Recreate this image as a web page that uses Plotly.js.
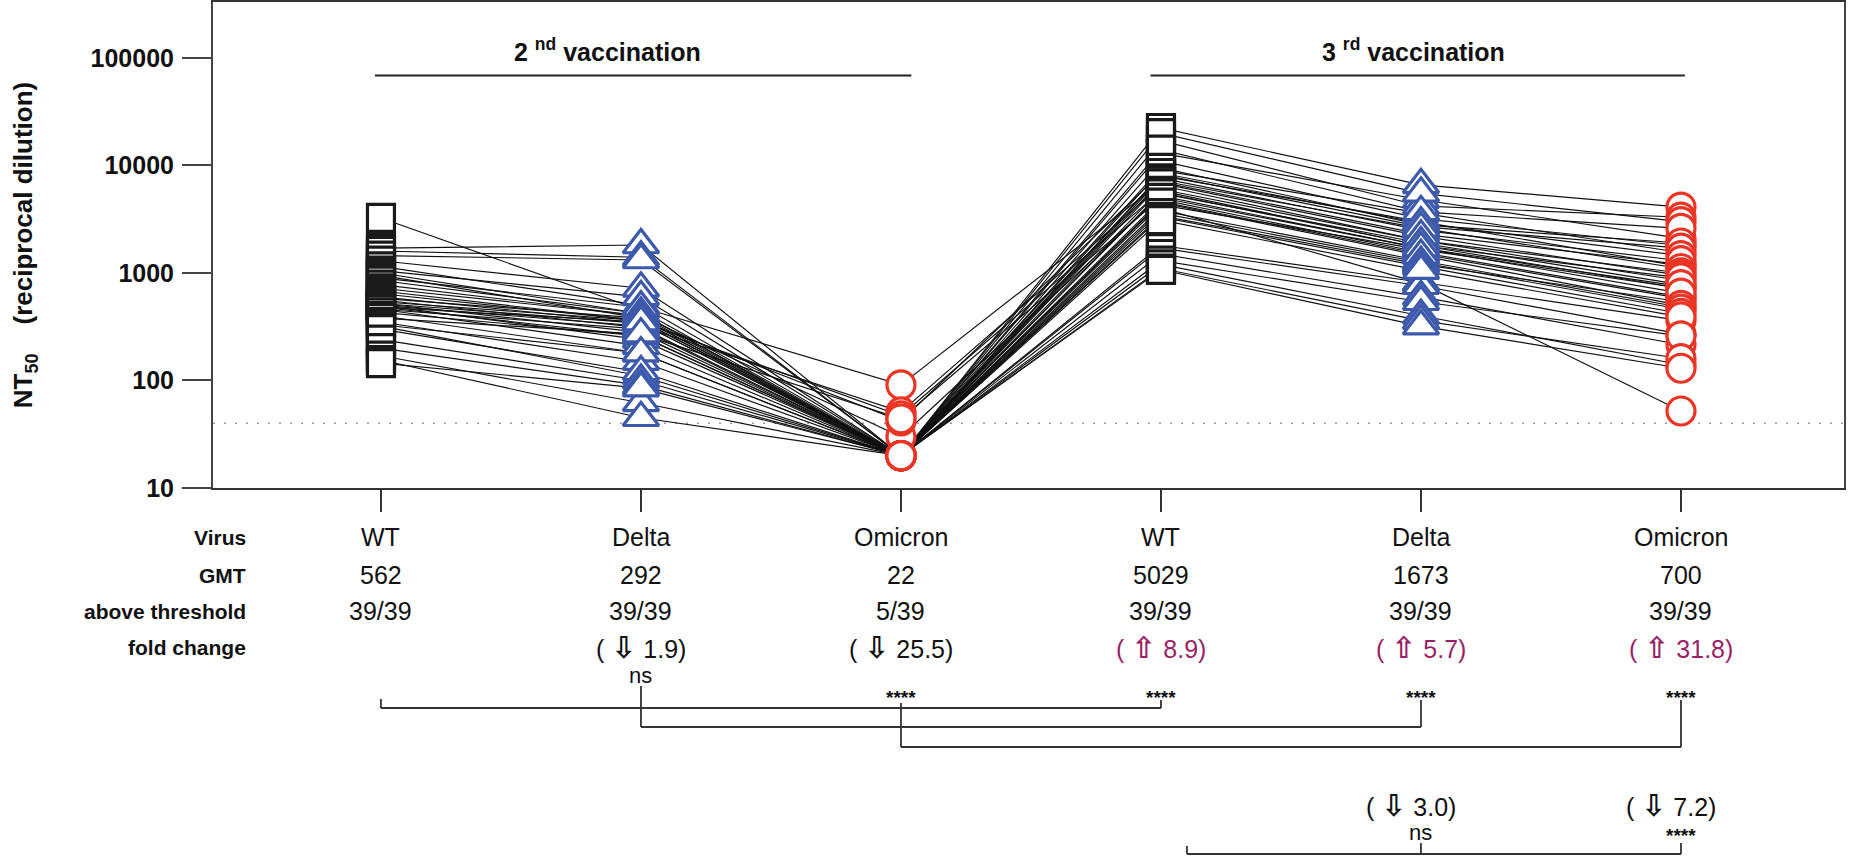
<!DOCTYPE html>
<html><head><meta charset="utf-8">
<script src="https://cdn.plot.ly/plotly-3.0.1.min.js"></script>
<style>html,body{margin:0;padding:0;background:#fff}</style>
</head><body>
<div id="chart" style="width:1850px;height:860px"></div>
<script>
// ---------------- data ----------------
const categories = ['WT', 'Delta', 'Omicron', 'WT', 'Delta', 'Omicron'];
const wt2      = [3250,1700,1600,1450,1300,1150,1050,1000,950,900,850,780,720,680,640,600,580,560,540,520,500,480,460,520,500,480,460,430,400,380,350,330,320,300,240,200,170,155,145];
const delta2   = [450,1820,1400,1320,720,500,600,420,380,480,420,400,400,360,360,340,380,310,360,280,320,260,300,340,240,350,210,260,180,270,150,180,110,120,100,90,62,45,85];
const omicron2 = [20,20,20,20,20,20,20,20,20,91,20,30,20,20,42,20,20,20,20,20,51,20,20,20,20,47,20,20,20,44,20,20,20,20,20,20,20,20,20];
const wt3      = [13000,22300,17000,9000,20000,8000,11000,6000,14000,7000,9500,5200,8200,4800,8500,3800,7600,5600,7200,4300,6500,1800,6800,4600,3400,5800,4000,5500,1700,5000,4500,3600,3300,1500,3100,1300,1200,1100,1070];
const delta3   = [4800,6600,4200,3600,5500,3000,3200,2000,3700,2300,2800,1700,2700,1550,2900,1300,2500,1800,2600,1650,2000,820,2200,1500,1200,1800,800,1900,760,1700,1450,1250,1150,600,1050,540,400,360,320];
const omicron3 = [2100,4100,3300,1550,3000,1150,1800,850,2600,1200,1900,750,1700,600,1450,480,1300,720,1100,720,1000,360,950,580,540,900,52,780,270,650,500,460,420,215,390,260,140,160,130];
const gmt = ['562', '292', '22', '5029', '1673', '700'];
const aboveThreshold = ['39/39', '39/39', '5/39', '39/39', '39/39', '39/39'];
const foldDir   = ['', 'down', 'down', 'up', 'up', 'up'];
const foldValue = ['', '1.9', '25.5', '8.9', '5.7', '31.8'];
const sigLabel  = ['', 'ns', '****', '****', '****', '****'];
const thirdFoldValue = ['3.0', '7.2'];
const thirdSig = ['ns', '****'];
const threshold = 40;
const rowLabels = ['Virus', 'GMT', 'above threshold', 'fold change'];
const yTicks = [10, 100, 1000, 10000, 100000];

// ---------------- layout helpers ----------------
const PLOT_TOP = 2, PLOT_BOTTOM = 488;
const py = Y => (PLOT_BOTTOM - Y) / (PLOT_BOTTOM - PLOT_TOP);
const xs = categories.map((c, i) => i);
const columns = [wt2, delta2, omicron2, wt3, delta3, omicron3];
const BLACK = '#1a1a1a', BLUE = '#3d59ab', RED = '#ec3424', MAG = '#9b1f68';
const VALFONT = "'Liberation Sans Narrow', 'Liberation Sans', Arial, sans-serif";
const BOLDFONT = "'Liberation Sans', Arial, sans-serif";
const VALSIZE = 25;

const traces = [];
for (let i = 0; i < wt2.length; i++) {
  traces.push({
    type: 'scatter', mode: 'lines', x: xs, y: columns.map(c => c[i]),
    line: {color: '#111', width: 1.15}, hoverinfo: 'skip', showlegend: false
  });
}
const markerStyles = [
  {symbol: 'square', size: 27, color: BLACK},
  {symbol: 'triangle-up', size: 31, color: BLUE},
  {symbol: 'circle', size: 28, color: RED},
  {symbol: 'square', size: 27, color: BLACK},
  {symbol: 'triangle-up', size: 31, color: BLUE},
  {symbol: 'circle', size: 28, color: RED}
];
columns.forEach((col, k) => {
  const st = markerStyles[k];
  traces.push({
    type: 'scatter', mode: 'markers', x: col.map(() => k), y: col,
    marker: {symbol: st.symbol, size: st.size, color: '#fff', line: {color: st.color, width: 3.2}},
    showlegend: false, cliponaxis: false, name: categories[k]
  });
});

const ann = [];
const shapes = [];
// header
[['2 <sup>nd</sup> vaccination', 0.87], ['3 <sup>rd</sup> vaccination', 3.97]].forEach(([t, x]) => {
  ann.push({text: t, x: x, xref: 'x', y: py(50), yref: 'paper', showarrow: false,
    font: {family: BOLDFONT, size: 25, color: '#111', weight: 'bold'}, xanchor: 'center', yanchor: 'middle'});
});
[[-0.023, 2.04], [2.96, 5.015]].forEach(([a, b]) => {
  shapes.push({type: 'line', xref: 'x', yref: 'paper', x0: a, x1: b, y0: py(75.5), y1: py(75.5), line: {color: '#222', width: 1.8}});
});
// threshold
shapes.push({type: 'line', xref: 'paper', yref: 'y', x0: 0, x1: 1, y0: threshold, y1: threshold,
  line: {color: '#999', width: 1.5, dash: '2px,9px'}, layer: 'below'});

// row labels
const rowY = [537, 575, 611, 647];
rowLabels.forEach((t, r) => {
  ann.push({text: t, xref: 'paper', x: (248 - 213) / 1631, y: py(rowY[r]), yref: 'paper', showarrow: false,
    xanchor: 'right', yanchor: 'middle', font: {family: BOLDFONT, size: 21, color: '#111', weight: 'bold'}});
});
const arrow = d => `<span style="font-family:'DejaVu Sans';font-weight:bold;font-size:30px">${d === 'up' ? '\u21E7' : '\u21E9'}</span>`;
categories.forEach((c, k) => {
  const cells = [c, gmt[k], aboveThreshold[k]];
  cells.forEach((t, r) => {
    ann.push({text: t, x: k, xref: 'x', y: py(rowY[r]), yref: 'paper', showarrow: false,
      xanchor: 'center', yanchor: 'middle', font: {family: VALFONT, size: VALSIZE, color: '#111'}});
  });
  if (foldValue[k]) {
    ann.push({text: '( ' + arrow(foldDir[k]) + ' ' + foldValue[k] + ')', x: k, xref: 'x', y: py(rowY[3]), yref: 'paper',
      showarrow: false, xanchor: 'center', yanchor: 'middle',
      font: {family: VALFONT, size: VALSIZE, color: foldDir[k] === 'up' ? MAG : '#111'}});
  }
  if (sigLabel[k]) {
    const isNs = sigLabel[k] === 'ns';
    ann.push({text: sigLabel[k], x: k, xref: 'x', y: py(isNs ? 675 : 697), yref: 'paper', showarrow: false,
      xanchor: 'center', yanchor: 'middle', font: {family: VALFONT, size: isNs ? 22 : 19, color: '#111', weight: isNs ? 'normal' : 'bold'}});
  }
});
// comparison brackets (2nd vs 3rd vaccination)
const brackets = [
  {a: 0, b: 3, y: 708, ta: 699, tb: 700},
  {a: 1, b: 4, y: 727, ta: 686, tb: 700},
  {a: 2, b: 5, y: 747, ta: 703, tb: 700}
];
brackets.forEach(br => {
  shapes.push({type: 'line', xref: 'x', yref: 'paper', x0: br.a, x1: br.b, y0: py(br.y), y1: py(br.y), line: {color: '#333', width: 1.8}});
  shapes.push({type: 'line', xref: 'x', yref: 'paper', x0: br.a, x1: br.a, y0: py(br.y), y1: py(br.ta), line: {color: '#333', width: 1.8}});
  shapes.push({type: 'line', xref: 'x', yref: 'paper', x0: br.b, x1: br.b, y0: py(br.y), y1: py(br.tb), line: {color: '#333', width: 1.8}});
});
// 3rd vaccination: WT vs Delta / Omicron
[4, 5].forEach((k, j) => {
  ann.push({text: '( ' + arrow('down') + ' ' + thirdFoldValue[j] + ')', x: k - 0.04, xref: 'x', y: py(805), yref: 'paper',
    showarrow: false, xanchor: 'center', yanchor: 'middle', font: {family: VALFONT, size: VALSIZE, color: '#111'}});
  const isNs = thirdSig[j] === 'ns';
  ann.push({text: thirdSig[j], x: k, xref: 'x', y: py(isNs ? 832 : 835), yref: 'paper', showarrow: false,
    xanchor: 'center', yanchor: 'middle', font: {family: VALFONT, size: isNs ? 22 : 19, color: '#111', weight: isNs ? 'normal' : 'bold'}});
});
shapes.push({type: 'line', xref: 'x', yref: 'paper', x0: 3.1, x1: 5, y0: py(854), y1: py(854), line: {color: '#333', width: 1.8}});
[[3.1, 846], [4, 843], [5, 843]].forEach(([x, t]) => {
  shapes.push({type: 'line', xref: 'x', yref: 'paper', x0: x, x1: x, y0: py(854), y1: py(t), line: {color: '#333', width: 1.8}});
});

const layout = {
  width: 1850, height: 860,
  margin: {l: 213, r: 6, t: 2, b: 372},
  paper_bgcolor: '#fff', plot_bgcolor: '#fff',
  showlegend: false,
  xaxis: {range: [-0.646, 5.627], tickvals: xs, ticks: 'outside', ticklen: 22, tickwidth: 1.8, tickcolor: '#333',
    showticklabels: false, showgrid: false, zeroline: false, showline: true, linecolor: '#333', linewidth: 2, mirror: true},
  yaxis: {type: 'log', range: [1, 5.52], tickvals: yTicks, ticktext: yTicks.map(String), ticks: 'outside', ticklen: 29,
    tickwidth: 2, tickcolor: '#444', showgrid: false, zeroline: false, showline: true, linecolor: '#444', linewidth: 2,
    mirror: true, tickfont: {family: BOLDFONT, size: 25, color: '#111', weight: 'bold'}, ticklabelstandoff: 3,
    title: {text: 'NT<sub>50</sub>    (reciprocal dilution)', standoff: 50,
      font: {family: BOLDFONT, size: 26, color: '#111', weight: 'bold'}}},
  annotations: ann,
  shapes: shapes
};
Plotly.newPlot('chart', traces, layout, {displayModeBar: false, staticPlot: true});
</script>
</body></html>
